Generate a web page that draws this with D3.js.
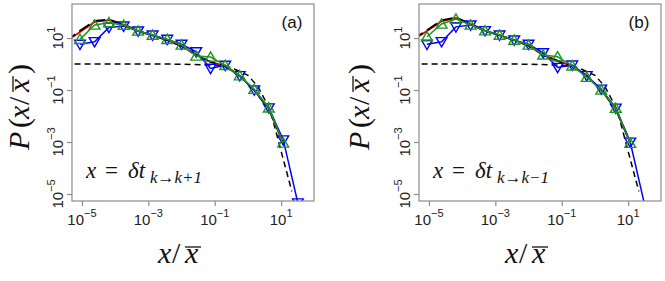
<!DOCTYPE html>
<html>
<head>
<meta charset="utf-8">
<script src="https://cdn.jsdelivr.net/npm/d3@7"></script>
<style>
  body { margin: 0; background: #fff; }
  svg { display: block; }
</style>
</head>
<body>
<script>
// bin centres of x / mean x (log-spaced), first bin only reached by red/black
const binX = [3.2e-6, 8.7e-6, 2.4e-5, 6.5e-5, 1.8e-4, 4.9e-4, 1.34e-3, 3.7e-3, 1.0e-2,
              2.76e-2, 7.5e-2, 0.207, 0.567, 1.55, 4.25, 11.6, 31.9];

// panel (a): x = dt k -> k+1
const redA   = [7.1, 17.0, 41.7, 49.0, 33.1, 18.6, 12.6, 8.3, 4.9, 2.24, 1.2, 0.83, 0.35, 0.1, 0.0186, 9.1e-4];
const blackA = [7.6, 19.0, 45.7, 51.3, 33.1, 18.6, 12.6, 8.3, 4.9, 2.24, 1.2, 0.83, 0.35, 0.1, 0.0186, 9.5e-4];
const blueA  = [5.75, 7.2, 25.7, 28.8, 18.6, 13.0, 8.9, 5.75, 2.95, 0.68, 0.89, 0.355, 0.1, 0.0204, 1.2e-3, 4.5e-6];
const greenA = [8.9, 31.6, 38.9, 30.9, 18.6, 13.0, 8.9, 5.4, 2.04, 1.86, 0.89, 0.355, 0.107, 0.0204, 9.1e-4];

// panel (b): x = dt k -> k-1
const redB   = [8.3, 18.6, 44.7, 58.9, 34.7, 19.1, 12.6, 8.3, 5.1, 2.24, 1.32, 0.83, 0.35, 0.1, 0.0186, 9.1e-4];
const blackB = [8.9, 20.0, 47.9, 61.7, 34.7, 19.1, 12.6, 8.3, 5.1, 2.24, 1.32, 0.83, 0.35, 0.1, 0.0186, 9.5e-4];
const blueB  = [5.75, 7.2, 26.9, 31.6, 19.1, 13.0, 8.3, 5.75, 2.7, 0.74, 0.91, 0.355, 0.107, 0.02, 9.8e-4, 3.5e-6];
const greenB = [11.2, 34.7, 53.7, 31.6, 19.1, 13.0, 8.3, 5.4, 2.24, 1.9, 0.85, 0.31, 0.1, 0.02, 8.9e-4];

// dashed reference curve (same in both panels)
const refX = [3e-6, 1e-3, 1e-2, 0.1, 0.3, 1, 2, 4.7, 10, 21];
const refY = [1.0, 1.0, 0.99, 0.9, 0.74, 0.37, 0.135, 0.017, 4.4e-4, 1.26e-5];

const xTicks = [1e-5, 1e-3, 1e-1, 1e1];
const xTickExp = ["−5", "−3", "−1", "1"];
const yTicks = [1e1, 1e-1, 1e-3, 1e-5];
const yTickExp = ["1", "−1", "−3", "−5"];

const W = 665, H = 281;
const svg = d3.select("body").append("svg").attr("width", W).attr("height", H);

const mathFont = "'Liberation Serif', 'Times New Roman', serif";
const sansFont = "'Liberation Sans', Arial, sans-serif";
const colors = { red: "#e00000", black: "#000", blue: "#0000ff", green: "#1e961e" };

function drawPanel(opt) {
    const left = opt.left, top = 4, w = 242, h = 197;
    const x = d3.scaleLog().domain([Math.pow(10, -5.3), Math.pow(10, 1.99)]).range([left, left + w]);
    const y = d3.scaleLog().domain([Math.pow(10, -5.27), Math.pow(10, 2.31)]).range([top + h, top]);

    const g = svg.append("g");
    const clipId = "clip-" + opt.name;
    g.append("clipPath").attr("id", clipId)
        .append("rect").attr("x", left).attr("y", top).attr("width", w).attr("height", h);

    // axes (ticks only, box drawn separately)
    const xAxis = g.append("g").attr("transform", `translate(0,${top + h})`)
        .call(d3.axisBottom(x).tickValues(xTicks).tickFormat("").tickSize(5).tickSizeOuter(0));
    const yAxis = g.append("g").attr("transform", `translate(${left},0)`)
        .call(d3.axisLeft(y).tickValues(yTicks).tickFormat("").tickSize(5).tickSizeOuter(0));
    [xAxis, yAxis].forEach(a => {
        a.select(".domain").remove();
        a.selectAll("line").attr("stroke", "#8c8c8c").attr("stroke-width", 1.2);
    });

    // tick labels with superscripts
    xTicks.forEach((t, i) => {
        const tx = g.append("text").attr("x", x(t)).attr("y", 225)
            .attr("text-anchor", "middle").attr("font-family", sansFont).attr("fill", "#222");
        tx.append("tspan").attr("font-size", 15).text("10");
        tx.append("tspan").attr("font-size", 11).attr("dy", -8).text(xTickExp[i]);
    });
    yTicks.forEach((t, i) => {
        const ty = g.append("text")
            .attr("transform", `translate(${left - 9},${y(t)}) rotate(-90)`)
            .attr("text-anchor", "middle").attr("font-family", sansFont).attr("fill", "#222");
        ty.append("tspan").attr("font-size", 15).text("10");
        ty.append("tspan").attr("font-size", 11).attr("dy", -8).text(yTickExp[i]);
    });

    const plot = g.append("g").attr("clip-path", `url(#${clipId})`);
    const line = d3.line().x(d => x(d[0])).y(d => y(d[1]));

    // reference curve
    plot.append("path").datum(d3.zip(refX, refY)).attr("d", line)
        .attr("fill", "none").attr("stroke", "#000").attr("stroke-width", 1.5)
        .attr("stroke-dasharray", "6,4");

    const redPts = d3.zip(binX.slice(0, opt.red.length), opt.red);
    const blackPts = d3.zip(binX.slice(0, opt.black.length), opt.black);
    const bluePts = d3.zip(binX.slice(1, 1 + opt.blue.length), opt.blue);
    const greenPts = d3.zip(binX.slice(1, 1 + opt.green.length), opt.green);

    plot.append("path").datum(redPts).attr("d", line)
        .attr("fill", "none").attr("stroke", colors.red).attr("stroke-width", 1.8);
    plot.append("path").datum(blackPts).attr("d", line)
        .attr("fill", "none").attr("stroke", colors.black).attr("stroke-width", 1.8)
        .attr("stroke-dasharray", "12,5");

    const tri = d3.symbol().type(d3.symbolTriangle).size(50);

    plot.append("path").datum(bluePts).attr("d", line)
        .attr("fill", "none").attr("stroke", colors.blue).attr("stroke-width", 1.5);
    plot.selectAll(".blue-pt").data(bluePts).enter().append("path")
        .attr("class", "blue-pt").attr("d", tri)
        .attr("transform", d => `translate(${x(d[0])},${y(d[1]) - 1}) rotate(180)`)
        .attr("fill", "none").attr("stroke", colors.blue).attr("stroke-width", 1.4);

    plot.append("path").datum(greenPts).attr("d", line)
        .attr("fill", "none").attr("stroke", colors.green).attr("stroke-width", 1.5);
    plot.selectAll(".green-pt").data(greenPts).enter().append("path")
        .attr("class", "green-pt").attr("d", tri)
        .attr("transform", d => `translate(${x(d[0])},${y(d[1]) + 1})`)
        .attr("fill", "none").attr("stroke", colors.green).attr("stroke-width", 1.4);

    // box
    g.append("rect").attr("x", left).attr("y", top).attr("width", w).attr("height", h)
        .attr("fill", "none").attr("stroke", "#8c8c8c").attr("stroke-width", 1.2);

    // panel tag
    g.append("text").attr("x", left + w - 22).attr("y", 28).attr("text-anchor", "middle")
        .attr("font-family", sansFont).attr("font-size", 17).attr("fill", "#111").text(opt.tag);

    // annotation x = δt_{k→k±1}
    const ax = left + 14, ab = 178;
    const ann = g.append("text").attr("font-family", mathFont).attr("font-size", 23).attr("fill", "#111");
    ann.append("tspan").attr("x", ax).attr("y", ab).attr("font-style", "italic").text("x");
    ann.append("tspan").attr("x", ax + 19).attr("y", ab).text("=");
    ann.append("tspan").attr("x", ax + 42).attr("y", ab).attr("font-style", "italic").text("δt");
    g.append("text").attr("x", ax + 64).attr("y", ab + 5)
        .attr("font-family", mathFont).attr("font-size", 17).attr("font-style", "italic")
        .attr("fill", "#111").text(opt.sub);

    // x-axis title x / x̄
    mathTitle(g, `translate(${left + 86},263)`);

    // y-axis title P(x / x̄), rotated
    mathTitle(g, `translate(${opt.yTitleX},150) rotate(-90)`, true);
}

function mathTitle(g, transform, withP) {
    const t = g.append("g").attr("transform", transform);
    const fs = 30;
    let pos = 0;
    const glyph = (s, off, italic) => t.append("text").attr("x", off).attr("y", 0)
        .attr("font-family", mathFont).attr("font-size", fs)
        .attr("font-style", italic ? "italic" : "normal").attr("fill", "#111").text(s);
    if (withP) {
        glyph("P", 0, true);
        glyph("(", 22, false);
        pos = 31;
    }
    glyph("x", pos, true);
    glyph("/", pos + 14, false);
    glyph("x", pos + 27, true);
    t.append("line").attr("x1", pos + 27).attr("x2", pos + 43)
        .attr("y1", -16).attr("y2", -16).attr("stroke", "#111").attr("stroke-width", 1.3);
    if (withP) glyph(")", pos + 45, false);
}

drawPanel({ name: "a", left: 72, tag: "(a)", sub: "k→k+1", yTitleX: 29,
    red: redA, black: blackA, blue: blueA, green: greenA });
drawPanel({ name: "b", left: 419, tag: "(b)", sub: "k→k−1", yTitleX: 369,
    red: redB, black: blackB, blue: blueB, green: greenB });
</script>
</body>
</html>
